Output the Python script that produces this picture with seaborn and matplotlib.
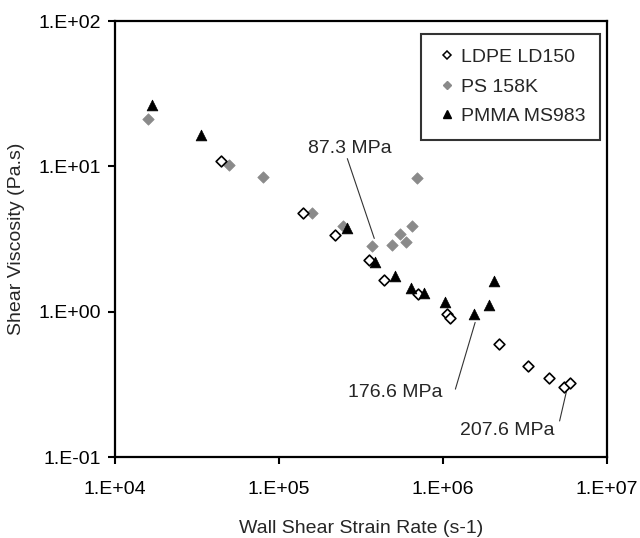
import numpy as np
import pandas as pd
import matplotlib
matplotlib.use("Agg")
import matplotlib.pyplot as plt
import seaborn as sns
from matplotlib.lines import Line2D

# ---- data ----
ldpe_x = [4.42e4, 1.41e5, 2.20e5, 3.54e5, 4.37e5, 7.03e5, 1.06e6, 1.10e6, 2.18e6, 3.31e6, 4.41e6, 5.45e6, 5.93e6]
ldpe_y = [10.8, 4.79, 3.37, 2.28, 1.64, 1.32, 0.966, 0.90, 0.60, 0.424, 0.35, 0.305, 0.321]

ps_x = [1.58e4, 4.95e4, 7.96e4, 1.60e5, 2.44e5, 3.68e5, 4.90e5, 5.43e5, 5.93e5, 6.46e5, 6.92e5]
ps_y = [21.2, 10.2, 8.47, 4.79, 3.86, 2.81, 2.86, 3.42, 3.02, 3.90, 8.33]

pmma_x = [1.67e4, 3.33e4, 2.58e5, 3.86e5, 5.13e5, 6.38e5, 7.67e5, 1.03e6, 1.54e6, 1.92e6, 2.06e6]
pmma_y = [26.5, 16.4, 3.79, 2.18, 1.77, 1.45, 1.34, 1.17, 0.966, 1.11, 1.62]

series_names = ["LDPE LD150", "PS 158K", "PMMA MS983"]

x_ticks = [1e4, 1e5, 1e6, 1e7]
x_tick_labels = ["1.E+04", "1.E+05", "1.E+06", "1.E+07"]
y_ticks = [1e-1, 1e0, 1e1, 1e2]
y_tick_labels = ["1.E-01", "1.E+00", "1.E+01", "1.E+02"]

annot_labels = ["87.3 MPa", "176.6 MPa", "207.6 MPa"]

# ---- style ----
sns.set_style("white")
plt.rcParams["font.family"] = ["Liberation Sans", "DejaVu Sans"]

fig = plt.figure(figsize=(6.4, 5.38), dpi=100)
ax = fig.add_axes([115 / 640, 1 - 457 / 538, 492 / 640, 436 / 538])

df_ldpe = pd.DataFrame({"x": ldpe_x, "y": ldpe_y})
df_ps = pd.DataFrame({"x": ps_x, "y": ps_y})
df_pmma = pd.DataFrame({"x": pmma_x, "y": pmma_y})

sns.scatterplot(data=df_ps, x="x", y="y", marker="D", s=34, color="#8a8a8a",
                edgecolor="#8a8a8a", linewidth=0.5, ax=ax, zorder=3)
sns.scatterplot(data=df_ldpe, x="x", y="y", marker="D", s=30, facecolor="white",
                edgecolor="black", linewidth=1.2, ax=ax, zorder=4)
sns.scatterplot(data=df_pmma, x="x", y="y", marker="^", s=60, color="black",
                edgecolor="black", linewidth=0.5, ax=ax, zorder=5)

ax.set_xscale("log")
ax.set_yscale("log")
ax.set_xlim(1e4, 1e7)
ax.set_ylim(1e-1, 1e2)
ax.set_xticks(x_ticks)
ax.set_xticklabels(x_tick_labels)
ax.set_yticks(y_ticks)
ax.set_yticklabels(y_tick_labels)
ax.minorticks_off()
ax.tick_params(axis="both", which="major", direction="out", length=5, width=1.5,
               labelsize=14, bottom=True, left=True, colors="black")
ax.tick_params(axis="x", pad=12)
ax.tick_params(axis="y", pad=5)
for sp in ax.spines.values():
    sp.set_linewidth(1.6)
    sp.set_color("black")

ax.set_xlabel("Wall Shear Strain Rate (s-1)", fontsize=14, labelpad=16)
ax.set_ylabel("Shear Viscosity (Pa.s)", fontsize=14, labelpad=10)

# annotations
ax.text(2.70e5, 13.3, annot_labels[0], fontsize=14, ha="center", va="center")
ax.plot([2.61e5, 3.81e5], [11.3, 3.19], color="#333333", lw=0.8)
ax.text(5.13e5, 0.277, annot_labels[1], fontsize=14, ha="center", va="center")
ax.plot([1.19e6, 1.57e6], [0.293, 0.843], color="#333333", lw=0.8)
ax.text(2.45e6, 0.153, annot_labels[2], fontsize=14, ha="center", va="center")
ax.plot([5.14e6, 5.70e6], [0.177, 0.293], color="#333333", lw=0.8)

handles = [
    Line2D([], [], linestyle="none", marker="D", markersize=4.5, markerfacecolor="white",
           markeredgecolor="black", markeredgewidth=1.1),
    Line2D([], [], linestyle="none", marker="D", markersize=4.5, markerfacecolor="#8a8a8a",
           markeredgecolor="#8a8a8a"),
    Line2D([], [], linestyle="none", marker="^", markersize=5.5, markerfacecolor="black",
           markeredgecolor="black"),
]
leg = ax.legend(handles, series_names, loc="upper right", bbox_to_anchor=(0.985, 0.971),
                fontsize=14, frameon=True, fancybox=False, handlelength=1.2,
                handletextpad=0.1, borderpad=0.75, labelspacing=0.62, borderaxespad=0)
leg.get_frame().set_edgecolor("black")
leg.get_frame().set_linewidth(1.5)

fig.savefig("out.png", dpi=100)
